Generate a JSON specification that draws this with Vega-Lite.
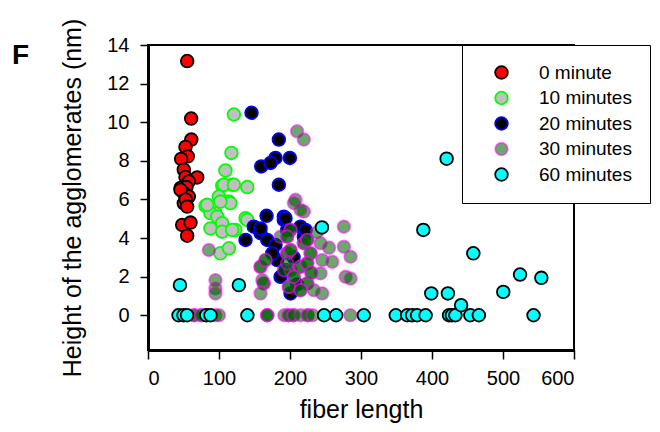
{
  "$schema": "https://vega.github.io/schema/vega-lite/v6.json",
  "width": 426,
  "height": 305,
  "autosize": {"type": "none"},
  "padding": {"left": 148, "top": 45, "right": 86, "bottom": 82},
  "background": "white",
  "title": {"text": "F", "anchor": "start", "frame": "group", "dx": -136, "dy": 56, "fontSize": 28, "fontWeight": "bold", "font": "Liberation Sans", "color": "black"},
  "config": {
    "view": {"stroke": "black", "strokeWidth": 2},
    "font": "Liberation Sans",
    "axis": {"grid": false, "domainColor": "black", "domainWidth": 3, "tickColor": "black", "tickWidth": 1.5, "labelColor": "black", "titleColor": "black", "labelFont": "Liberation Sans", "titleFont": "Liberation Sans", "labelFontSize": 20, "titleFontSize": 25, "titleFontWeight": "normal"}
  },
  "data": {"values": [
    {"length": 55.2, "height": 13.17, "time": "0 minute"},
    {"length": 60.8, "height": 10.19, "time": "0 minute"},
    {"length": 61, "height": 9.1, "time": "0 minute"},
    {"length": 52.8, "height": 8.72, "time": "0 minute"},
    {"length": 56, "height": 8.23, "time": "0 minute"},
    {"length": 46.7, "height": 8.1, "time": "0 minute"},
    {"length": 50.4, "height": 7.54, "time": "0 minute"},
    {"length": 69.3, "height": 7.14, "time": "0 minute"},
    {"length": 52.8, "height": 7.16, "time": "0 minute"},
    {"length": 57.5, "height": 6.93, "time": "0 minute"},
    {"length": 45.8, "height": 6.59, "time": "0 minute"},
    {"length": 54.2, "height": 6.64, "time": "0 minute"},
    {"length": 50.4, "height": 6.33, "time": "0 minute"},
    {"length": 57.5, "height": 6.15, "time": "0 minute"},
    {"length": 45.8, "height": 6.5, "time": "0 minute"},
    {"length": 50.4, "height": 5.8, "time": "0 minute"},
    {"length": 53, "height": 6.0, "time": "0 minute"},
    {"length": 55.2, "height": 5.63, "time": "0 minute"},
    {"length": 48.2, "height": 4.68, "time": "0 minute"},
    {"length": 59.9, "height": 4.8, "time": "0 minute"},
    {"length": 55.2, "height": 4.12, "time": "0 minute"},

    {"length": 121, "height": 10.4, "time": "10 minutes"},
    {"length": 117.5, "height": 8.41, "time": "10 minutes"},
    {"length": 109, "height": 7.5, "time": "10 minutes"},
    {"length": 104.5, "height": 6.71, "time": "10 minutes"},
    {"length": 118.6, "height": 6.76, "time": "10 minutes"},
    {"length": 139.8, "height": 6.64, "time": "10 minutes"},
    {"length": 113.9, "height": 5.89, "time": "10 minutes"},
    {"length": 99.8, "height": 6.15, "time": "10 minutes"},
    {"length": 81, "height": 5.67, "time": "10 minutes"},
    {"length": 137.4, "height": 5.03, "time": "10 minutes"},
    {"length": 95, "height": 5.29, "time": "10 minutes"},
    {"length": 106.8, "height": 6.76, "time": "10 minutes"},
    {"length": 121, "height": 6.76, "time": "10 minutes"},
    {"length": 116, "height": 5.81, "time": "10 minutes"},
    {"length": 102, "height": 5.89, "time": "10 minutes"},
    {"length": 88, "height": 5.29, "time": "10 minutes"},
    {"length": 97.5, "height": 5.11, "time": "10 minutes"},
    {"length": 104.5, "height": 4.77, "time": "10 minutes"},
    {"length": 88, "height": 4.5, "time": "10 minutes"},
    {"length": 104.5, "height": 4.33, "time": "10 minutes"},
    {"length": 123, "height": 4.42, "time": "10 minutes"},
    {"length": 139.8, "height": 4.94, "time": "10 minutes"},
    {"length": 102, "height": 3.21, "time": "10 minutes"},
    {"length": 114, "height": 3.47, "time": "10 minutes"},
    {"length": 83.4, "height": 5.72, "time": "10 minutes"},
    {"length": 118.6, "height": 4.42, "time": "10 minutes"},

    {"length": 145.8, "height": 10.49, "time": "20 minutes"},
    {"length": 184.3, "height": 9.1, "time": "20 minutes"},
    {"length": 179.6, "height": 8.15, "time": "20 minutes"},
    {"length": 199.8, "height": 8.15, "time": "20 minutes"},
    {"length": 159.5, "height": 7.71, "time": "20 minutes"},
    {"length": 172.6, "height": 7.89, "time": "20 minutes"},
    {"length": 184.3, "height": 6.76, "time": "20 minutes"},
    {"length": 167, "height": 5.15, "time": "20 minutes"},
    {"length": 191.3, "height": 5.11, "time": "20 minutes"},
    {"length": 149, "height": 4.59, "time": "20 minutes"},
    {"length": 137.4, "height": 3.9, "time": "20 minutes"},
    {"length": 158.5, "height": 4.25, "time": "20 minutes"},
    {"length": 168, "height": 3.9, "time": "20 minutes"},
    {"length": 179.6, "height": 3.64, "time": "20 minutes"},
    {"length": 191.3, "height": 4.94, "time": "20 minutes"},
    {"length": 196, "height": 4.42, "time": "20 minutes"},
    {"length": 182, "height": 2.86, "time": "20 minutes"},
    {"length": 186.7, "height": 1.99, "time": "20 minutes"},
    {"length": 214.8, "height": 4.59, "time": "20 minutes"},
    {"length": 219.5, "height": 4.07, "time": "20 minutes"},
    {"length": 158.5, "height": 4.5, "time": "20 minutes"},
    {"length": 193.7, "height": 5.03, "time": "20 minutes"},
    {"length": 221.9, "height": 4.42, "time": "20 minutes"},
    {"length": 200.8, "height": 1.13, "time": "20 minutes"},
    {"length": 193.7, "height": 2.34, "time": "20 minutes"},
    {"length": 205, "height": 3.0, "time": "20 minutes"},
    {"length": 210, "height": 1.6, "time": "20 minutes"},
    {"length": 175, "height": 3.2, "time": "20 minutes"},

    {"length": 210, "height": 9.53, "time": "30 minutes"},
    {"length": 219.5, "height": 9.1, "time": "30 minutes"},
    {"length": 207.8, "height": 5.98, "time": "30 minutes"},
    {"length": 219.5, "height": 5.37, "time": "30 minutes"},
    {"length": 275.9, "height": 4.59, "time": "30 minutes"},
    {"length": 275.9, "height": 3.55, "time": "30 minutes"},
    {"length": 285.3, "height": 3.03, "time": "30 minutes"},
    {"length": 278.3, "height": 1.99, "time": "30 minutes"},
    {"length": 285.3, "height": 1.9, "time": "30 minutes"},
    {"length": 245.4, "height": 1.13, "time": "30 minutes"},
    {"length": 85.7, "height": 3.38, "time": "30 minutes"},
    {"length": 95, "height": 1.82, "time": "30 minutes"},
    {"length": 95, "height": 1.39, "time": "30 minutes"},
    {"length": 95, "height": 1.13, "time": "30 minutes"},
    {"length": 158.5, "height": 2.51, "time": "30 minutes"},
    {"length": 158.5, "height": 2.51, "time": "30 minutes"},
    {"length": 163, "height": 1.65, "time": "30 minutes"},
    {"length": 163, "height": 1.65, "time": "30 minutes"},
    {"length": 158.5, "height": 1.13, "time": "30 minutes"},
    {"length": 196, "height": 3.21, "time": "30 minutes"},
    {"length": 196, "height": 3.21, "time": "30 minutes"},
    {"length": 200.8, "height": 2.34, "time": "30 minutes"},
    {"length": 200.8, "height": 2.34, "time": "30 minutes"},
    {"length": 198.4, "height": 1.47, "time": "30 minutes"},
    {"length": 198.4, "height": 1.47, "time": "30 minutes"},
    {"length": 205.5, "height": 5.81, "time": "30 minutes"},
    {"length": 200.8, "height": 4.42, "time": "30 minutes"},
    {"length": 200.8, "height": 4.42, "time": "30 minutes"},
    {"length": 165.5, "height": 2.86, "time": "30 minutes"},
    {"length": 165.5, "height": 2.86, "time": "30 minutes"},
    {"length": 161, "height": 1.82, "time": "30 minutes"},
    {"length": 214.8, "height": 5.46, "time": "30 minutes"},
    {"length": 219.5, "height": 3.73, "time": "30 minutes"},
    {"length": 219.5, "height": 3.73, "time": "30 minutes"},
    {"length": 214.8, "height": 2.51, "time": "30 minutes"},
    {"length": 214.8, "height": 2.51, "time": "30 minutes"},
    {"length": 186.7, "height": 4.07, "time": "30 minutes"},
    {"length": 191.3, "height": 2.34, "time": "30 minutes"},
    {"length": 196, "height": 4.07, "time": "30 minutes"},
    {"length": 196, "height": 4.07, "time": "30 minutes"},
    {"length": 200.8, "height": 3.38, "time": "30 minutes"},
    {"length": 200.8, "height": 3.38, "time": "30 minutes"},
    {"length": 196, "height": 2.69, "time": "30 minutes"},
    {"length": 224.3, "height": 3.9, "time": "30 minutes"},
    {"length": 224.3, "height": 3.9, "time": "30 minutes"},
    {"length": 229, "height": 3.21, "time": "30 minutes"},
    {"length": 229, "height": 3.21, "time": "30 minutes"},
    {"length": 243, "height": 3.73, "time": "30 minutes"},
    {"length": 245.4, "height": 2.86, "time": "30 minutes"},
    {"length": 224.3, "height": 2.69, "time": "30 minutes"},
    {"length": 224.3, "height": 2.69, "time": "30 minutes"},
    {"length": 243, "height": 2.17, "time": "30 minutes"},
    {"length": 259.5, "height": 2.77, "time": "30 minutes"},
    {"length": 224.3, "height": 1.65, "time": "30 minutes"},
    {"length": 224.3, "height": 1.65, "time": "30 minutes"},
    {"length": 233.6, "height": 1.3, "time": "30 minutes"},
    {"length": 205.5, "height": 1.99, "time": "30 minutes"},
    {"length": 205.5, "height": 1.99, "time": "30 minutes"},
    {"length": 214.8, "height": 1.3, "time": "30 minutes"},
    {"length": 214.8, "height": 1.3, "time": "30 minutes"},
    {"length": 238, "height": 4.3, "time": "30 minutes"},
    {"length": 255, "height": 3.5, "time": "30 minutes"},
    {"length": 230, "height": 2.2, "time": "30 minutes"},
    {"length": 230, "height": 2.2, "time": "30 minutes"},
    {"length": 65, "height": 0, "time": "30 minutes"},
    {"length": 65, "height": 0, "time": "30 minutes"},
    {"length": 75, "height": 0, "time": "30 minutes"},
    {"length": 75, "height": 0, "time": "30 minutes"},
    {"length": 95, "height": 0, "time": "30 minutes"},
    {"length": 100, "height": 0, "time": "30 minutes"},
    {"length": 168, "height": 0, "time": "30 minutes"},
    {"length": 168, "height": 0, "time": "30 minutes"},
    {"length": 168, "height": 0, "time": "30 minutes"},
    {"length": 192, "height": 0, "time": "30 minutes"},
    {"length": 198, "height": 0, "time": "30 minutes"},
    {"length": 198, "height": 0, "time": "30 minutes"},
    {"length": 205, "height": 0, "time": "30 minutes"},
    {"length": 205, "height": 0, "time": "30 minutes"},
    {"length": 215, "height": 0, "time": "30 minutes"},
    {"length": 225, "height": 0, "time": "30 minutes"},
    {"length": 225, "height": 0, "time": "30 minutes"},
    {"length": 232, "height": 0, "time": "30 minutes"},
    {"length": 285, "height": 0, "time": "30 minutes"},

    {"length": 43, "height": 0, "time": "60 minutes"},
    {"length": 50, "height": 0, "time": "60 minutes"},
    {"length": 55, "height": 0, "time": "60 minutes"},
    {"length": 82, "height": 0, "time": "60 minutes"},
    {"length": 88, "height": 0, "time": "60 minutes"},
    {"length": 140, "height": 0, "time": "60 minutes"},
    {"length": 248, "height": 0, "time": "60 minutes"},
    {"length": 265, "height": 0, "time": "60 minutes"},
    {"length": 304, "height": 0, "time": "60 minutes"},
    {"length": 349, "height": 0, "time": "60 minutes"},
    {"length": 365, "height": 0, "time": "60 minutes"},
    {"length": 372, "height": 0, "time": "60 minutes"},
    {"length": 379, "height": 0, "time": "60 minutes"},
    {"length": 391, "height": 0, "time": "60 minutes"},
    {"length": 424, "height": 0, "time": "60 minutes"},
    {"length": 428, "height": 0, "time": "60 minutes"},
    {"length": 433, "height": 0, "time": "60 minutes"},
    {"length": 454, "height": 0, "time": "60 minutes"},
    {"length": 466, "height": 0, "time": "60 minutes"},
    {"length": 543, "height": 0, "time": "60 minutes"},
    {"length": 45, "height": 1.56, "time": "60 minutes"},
    {"length": 128, "height": 1.56, "time": "60 minutes"},
    {"length": 245, "height": 4.55, "time": "60 minutes"},
    {"length": 420.6, "height": 8.11, "time": "60 minutes"},
    {"length": 387.8, "height": 4.42, "time": "60 minutes"},
    {"length": 458.2, "height": 3.21, "time": "60 minutes"},
    {"length": 524, "height": 2.11, "time": "60 minutes"},
    {"length": 554, "height": 1.94, "time": "60 minutes"},
    {"length": 500.4, "height": 1.21, "time": "60 minutes"},
    {"length": 399, "height": 1.13, "time": "60 minutes"},
    {"length": 422.4, "height": 1.13, "time": "60 minutes"},
    {"length": 441, "height": 0.52, "time": "60 minutes"}
  ]},
  "mark": {"type": "circle", "size": 160, "strokeWidth": 1.8, "opacity": 1},
  "encoding": {
    "x": {"field": "length", "type": "quantitative", "scale": {"domain": [0, 600], "nice": false}, "axis": {"values": [0, 100, 200, 300, 400, 500, 600], "title": "fiber length", "tickSize": 9, "labelPadding": 9, "titlePadding": 9}},
    "y": {"field": "height", "type": "quantitative", "scale": {"domain": [-1.8, 14], "nice": false, "zero": false}, "axis": {"values": [0, 2, 4, 6, 8, 10, 12, 14], "title": "Height of the agglomerates (nm)", "tickSize": 8, "labelPadding": 11, "titlePadding": 21}},
    "fill": {"field": "time", "type": "nominal", "scale": {"domain": ["0 minute", "10 minutes", "20 minutes", "30 minutes", "60 minutes"], "range": ["#ff0000", "#c0c0c0", "#000000", "rgba(0,100,0,0.57)", "#00ffff"]}, "legend": {"title": null, "orient": "none", "legendX": 314, "legendY": 0, "fillColor": "white", "strokeColor": "black", "padding": 18, "symbolOffset": 12, "labelOffset": 28, "labelFontSize": 19, "labelFont": "Liberation Sans", "labelColor": "black", "symbolSize": 160, "symbolStrokeWidth": 1.8, "rowPadding": 4.5, "encode": {"legend": {"update": {"strokeWidth": {"value": 1.5}}}}}},
    "stroke": {"field": "time", "type": "nominal", "scale": {"domain": ["0 minute", "10 minutes", "20 minutes", "30 minutes", "60 minutes"], "range": ["#000000", "#00ff00", "#0000ff", "rgba(255,0,255,0.5)", "#000000"]}, "legend": {"title": null, "orient": "none", "legendX": 314, "legendY": 0}}
  }
}
